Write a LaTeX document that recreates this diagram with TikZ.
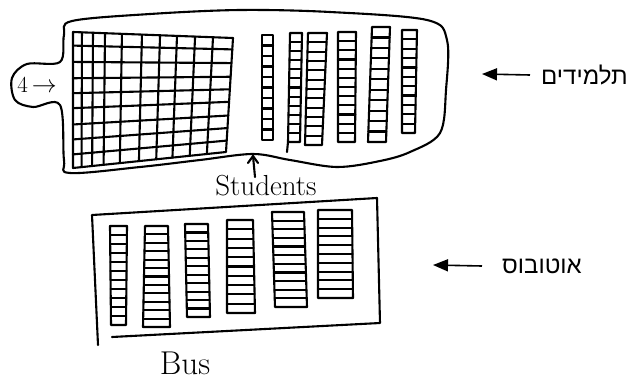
\documentclass[tikz,border=0pt]{standalone}
\usepackage{fontspec}
\usetikzlibrary{calc,arrows.meta}
\TeXXeTstate=1
\newfontfamily\hebfont[Script=Hebrew]{Liberation Sans}
\newcommand{\myladder}[7]{%
  \draw[hand] (#1,#3) -- (#2,#3) -- (#5,#6) -- (#4,#6) -- cycle;
  \foreach \k in {1,...,#7}{%
    \draw[hand] ($(#1,#3)!{\k/(#7+1)}!(#4,#6)$) -- ($(#2,#3)!{\k/(#7+1)}!(#5,#6)$);
  }%
}
\tikzset{
  hand/.style={line width=2.1pt, line join=round, line cap=round},
  lbl/.style={font=\hebfont\fontsize{24}{28}\selectfont, inner sep=0pt, anchor=west},
  arr/.style={line width=1.6pt, -{Triangle[length=15pt,width=12pt]}},
  script/.style={inner sep=0pt}
}
\begin{document}
\begin{tikzpicture}[x=1pt,y=-1pt]
\useasboundingbox (0,0) rectangle (630,383);
% student blob outline with tab
\draw[hand] plot[smooth cycle, tension=0.55] coordinates {
 (72,21) (150,14) (240,10) (330,12) (427,20) (447,40) (446,90) (440,133)
 (410,152) (380,161) (337,167) (290,160) (253,154) (200,160) (140,167)
 (70,173) (64,160) (60,105) (33,107) (15,100) (12,78) (27,64) (60,62) (64,35)};
\node[script, font=\fontsize{23}{23}\selectfont] (four) at (37,85) {4\,$\to$};
% grid
\coordinate (gTL) at (73,32); \coordinate (gTR) at (233,38);
\coordinate (gBL) at (73,168); \coordinate (gBR) at (226,152);
\draw[hand] (gTL) -- (gTR) -- (gBR) -- (gBL) -- cycle;
\foreach \f in {0.056,0.125,0.2,0.306,0.431,0.544,0.65,0.763,0.875}{
  \draw[hand] ($(gTL)!\f!(gTR)$) -- ($(gBL)!\f!(gBR)$);
}
\foreach \f in {0.1,0.22,0.34,0.45,0.56,0.68,0.79,0.9}{
  \draw[hand] ($(gTL)!\f!(gBL)$) -- ($(gTR)!\f!(gBR)$);
}
% top ladders
\myladder{262}{273}{35}{262}{273}{140}{9}
\myladder{290}{302}{33}{288}{300}{142}{11}
\draw[hand] (288,142) -- (287,152);
\myladder{308}{327}{33}{305}{322}{145}{11}
\myladder{338}{356}{32}{338}{355}{142}{11}
\myladder{372}{390}{27}{368}{386}{142}{10}
\myladder{402}{417}{30}{402}{415}{133}{10}
% students label
\node[script, font=\fontsize{29}{29}\selectfont] (stud) at (266,186) {Students};
\coordinate (sarr) at (253,156);
\draw[hand] (255,177) -- (sarr);
\draw[hand] (248,163) -- (sarr) -- (258,163);
% bus
\draw[hand] (98,345) -- (92,215) -- (377,198) -- (380,323) -- (112,337);
\myladder{110}{127}{226}{111}{126}{325}{10}
\myladder{145}{168}{226}{143}{170}{327}{11}
\myladder{185}{208}{224}{187}{210}{317}{10}
\myladder{227}{253}{220}{227}{255}{313}{9}
\myladder{272}{304}{212}{275}{307}{307}{10}
\myladder{318}{352}{210}{318}{353}{298}{9}
\node[script, font=\fontsize{33}{33}\selectfont] (bus) at (185,363) {Bus};
% hebrew labels
\node[lbl] (heb1) at (541,75) {\beginR תלמידים\endR};
\coordinate (a1) at (482,74);
\draw[arr] ([xshift=-11pt]heb1.west) -- (a1);
\node[lbl] (heb2) at (502,266) {\beginR אוטובוס\endR};
\coordinate (a2) at (433,265);
\draw[arr] ([xshift=-20pt]heb2.west) -- (a2);
\end{tikzpicture}
\end{document}
